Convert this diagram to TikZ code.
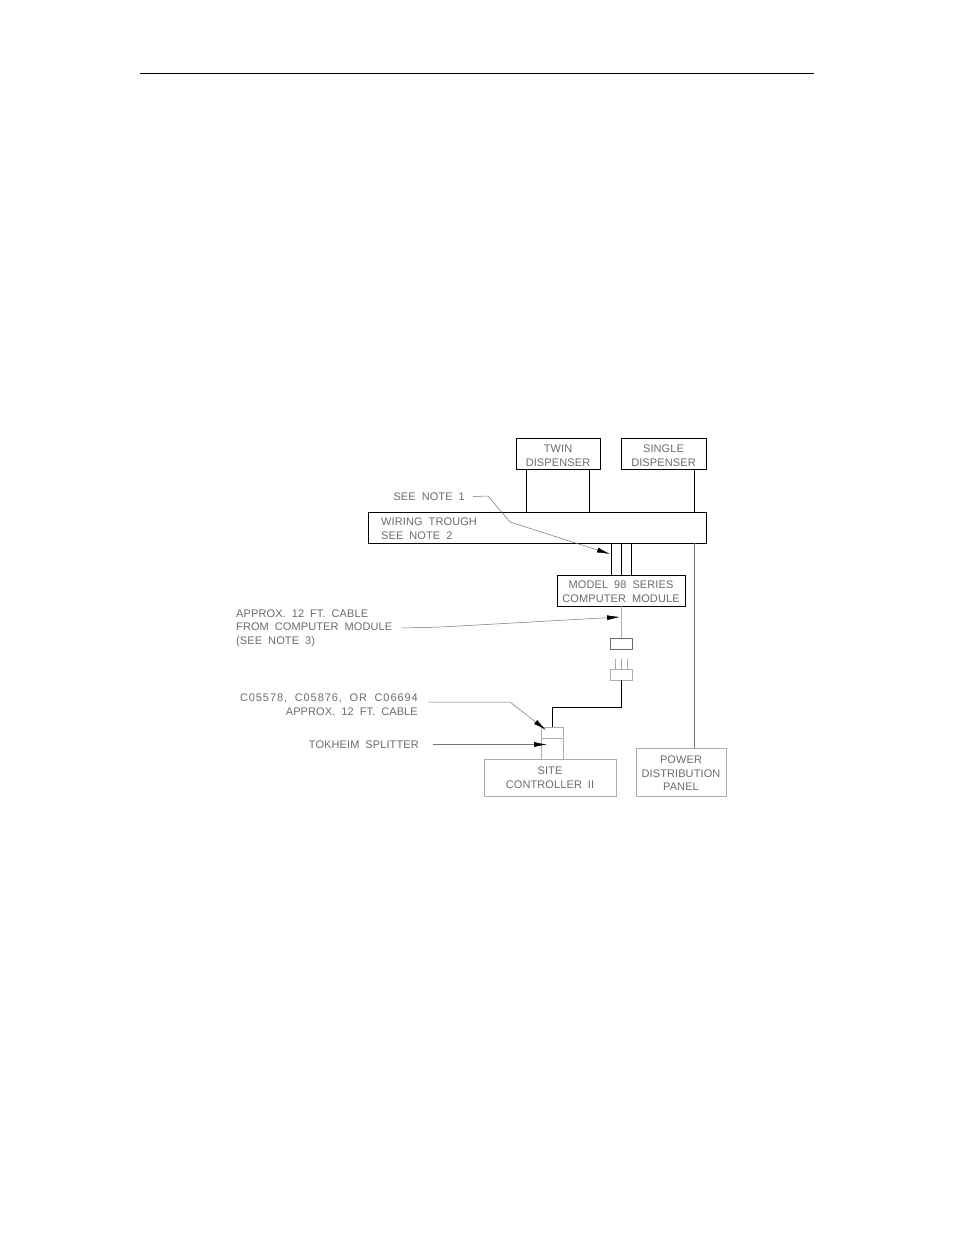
\documentclass[tikz,border=0pt]{standalone}
\usepackage{fontspec}
\usetikzlibrary{arrows.meta}
\newfontfamily\cadfont[LetterSpace=1,WordSpace=1.9]{Liberation Sans}
\definecolor{myText}{gray}{0.42}
\definecolor{myLeader}{gray}{0.45}
\definecolor{myPale}{gray}{0.68}
\tikzset{
  cadtext/.style = {font = \cadfont\fontsize{11}{13.5}\selectfont, text = myText, inner sep = 0pt},
  boxdark/.style = {cadtext, draw = black, line width = 0.9pt, align = center},
  boxpale/.style = {cadtext, draw = myPale, line width = 0.8pt, align = center},
  wire/.style = {draw = black, line width = 0.9pt},
  cablepale/.style = {draw = myPale, line width = 0.8pt},
  leader/.style = {draw = myLeader, line width = 0.5pt, -{Latex[length = 13pt, width = 5pt, black]}}
}
\begin{document}
\begin{tikzpicture}[x = 1pt, y = -1pt]   % one unit is one pixel of the page
  % Bounding box
  \useasboundingbox (0, 0) rectangle (954, 1235);
  % rule on top
  \draw [line width = 0.8pt] (140, 73) -- (814, 73);
  % dispensers
  \node (twin) [boxdark, minimum width = 84pt, minimum height = 31pt] at (558, 453.5) {\rule{0pt}{12pt}TWIN\\DISPENSER};
  \node (single) [boxdark, minimum width = 85pt, minimum height = 31pt] at (663.5, 453.5) {\rule{0pt}{12pt}SINGLE\\DISPENSER};
  % trough
  \node (trough) [boxdark, minimum width = 338pt, minimum height = 31pt] at (537, 527.5) {};
  \node (troughtext) [cadtext, align = left, anchor = west] at (381, 528.5) {WIRING TROUGH\\SEE NOTE 2};
  % module
  \node (module) [boxdark, minimum width = 128pt, minimum height = 31pt] at (621, 590.5) {\rule{0pt}{10pt}MODEL 98 SERIES\\COMPUTER MODULE};
  % unten
  \node (site) [boxpale, minimum width = 132pt, minimum height = 37pt] at (550, 777.5) {SITE\\CONTROLLER II};
  \node (panel) [boxpale, minimum width = 90pt, minimum height = 48pt] at (681, 772) {\rule{0pt}{10pt}POWER\\DISTRIBUTION\\PANEL};
  % connectors
  \node (plugtop) [draw = myText, line width = 0.7pt, minimum width = 22pt, minimum height = 11pt, inner sep = 0pt] at (621, 643.5) {};
  \node (plugbot) [boxpale, minimum width = 22pt, minimum height = 11pt] at (621, 674.5) {};
  \node (splitter) [boxpale, minimum width = 22pt, minimum height = 32pt] at (552, 743) {};
  \coordinate (splitmid) at (0, 738);
  \draw [cablepale] (splitter.west |- splitmid) -- (splitter.east |- splitmid);
  % labels
  \node (notea) [cadtext, anchor = east] at (465, 496.5) {SEE NOTE 1};
  \node (cablea) [cadtext, align = left, anchor = west] at (236, 628) {APPROX. 12 FT. CABLE\\FROM COMPUTER MODULE\\(SEE NOTE 3)};
  \node (cableb) [cadtext, align = right, anchor = north east] at (418, 694) {{\addfontfeature{LetterSpace=8.5}C05578, C05876, OR C06694}\\APPROX. 12 FT. CABLE};
  \node (splittext) [cadtext, anchor = east] at (419, 744.5) {TOKHEIM SPLITTER};
  % wire positions
  \coordinate (twina) at (526, 0);
  \coordinate (twinb) at (589, 0);
  \coordinate (singlea) at (694, 0);
  \coordinate (busa) at (611, 0);
  \coordinate (busb) at (621, 0);
  \coordinate (busc) at (631, 0);
  \coordinate (pina) at (615, 659);
  \coordinate (pinb) at (621, 659);
  \coordinate (pinc) at (627, 659);
  % wires
  \draw [wire] (twina |- twin.south) -- (twina |- trough.north);
  \draw [wire] (twinb |- twin.south) -- (twinb |- trough.north);
  \draw [wire] (singlea |- single.south) -- (singlea |- trough.north);
  \draw [wire] (busa |- trough.south) -- (busa |- module.north);
  \draw [wire] (busb |- trough.south) -- (busb |- module.north);
  \draw [wire] (busc |- trough.south) -- (busc |- module.north);
  \draw [draw = myLeader, line width = 0.8pt] (singlea |- trough.south) -- (singlea |- panel.north);
  \draw [cablepale] (module.south) -- (plugtop.north);
  \draw [cablepale] (pina) -- (pina |- plugbot.north);
  \draw [cablepale] (pinb) -- (pinb |- plugbot.north);
  \draw [cablepale] (pinc) -- (pinc |- plugbot.north);
  \draw [wire] (plugbot.south) -- (621, 707) -- (552, 707) -- (splitter.north);
  \draw [cablepale] (splitter.south west) -- (splitter.south west |- site.north);
  % leaders
  \coordinate (noteatip) at (610, 554);
  \coordinate (cableatip) at (620, 617);
  \coordinate (cablebtail) at (428, 702);
  \coordinate (cablebtip) at (546, 730);
  \coordinate (splittip) at (547, 744.5);
  \draw [leader] ([xshift = 8pt] notea.east) -- (488, 496) -- (510, 522) -- (noteatip);
  \draw [leader] ([xshift = 9pt] cablea.east) -- (441, 627) -- (cableatip);
  \draw [leader] (cablebtail) -- (510, 702) -- (cablebtip);
  \draw [leader] ([xshift = 14pt] splittext.east) -- (splittip);
\end{tikzpicture}
\end{document}
